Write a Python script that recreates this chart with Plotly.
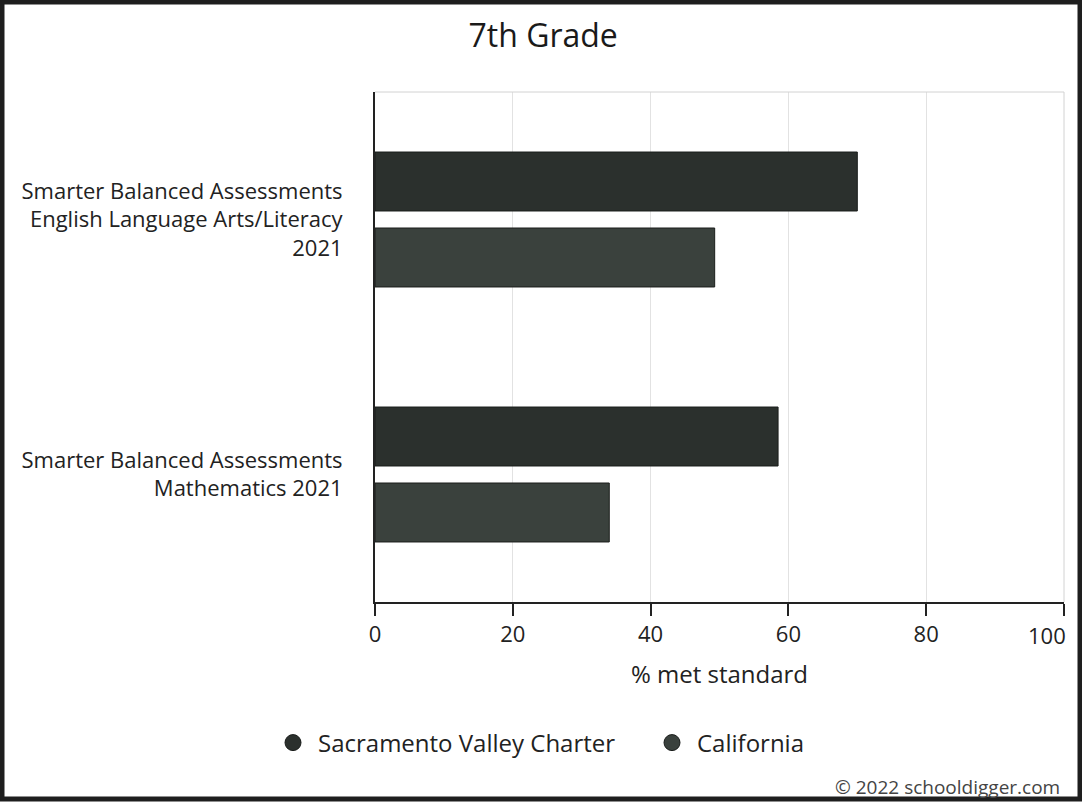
import plotly.graph_objects as go

categories = [
    "Smarter Balanced Assessments<br>English Language Arts/Literacy<br>2021",
    "Smarter Balanced Assessments<br>Mathematics 2021",
]
series_names = ["Sacramento Valley Charter", "California"]
svc_values = [70.0, 58.5]
ca_values = [49.3, 34.0]
x_ticks = [0, 20, 40, 60, 80, 100]
x_tick_labels = ["0", "20", "40", "60", "80", ""]
last_tick_label = "100"

colors = ["#2b302d", "#3a413d"]
W, H = 1082, 803
L, R, T, B = 375, 18, 92, 201
pw, ph = W - L - R, H - T - B

def px_x(p):
    return (p - L) / pw

def px_y(p):
    return (H - B - p) / ph

fig = go.Figure()
for name, vals, col in zip(series_names, [svc_values, ca_values], colors):
    fig.add_trace(go.Bar(
        y=categories, x=vals, name=name, orientation="h",
        marker=dict(color=col, line=dict(color="#1a1d1b", width=1)),
        showlegend=False,
    ))
    fig.add_trace(go.Scatter(
        x=[None], y=[None], mode="markers", name=name,
        marker=dict(symbol="circle", size=22, color=col,
                    line=dict(color="#1a1d1b", width=1)),
    ))

font = "Open Sans, DejaVu Sans, sans-serif"
fig.update_layout(
    width=W, height=H,
    margin=dict(l=L, r=R, t=T, b=B),
    paper_bgcolor="white", plot_bgcolor="white",
    font=dict(family=font, color="#222222", size=22),
    barmode="group", bargap=0.404, bargroupgap=0.224,
    title=dict(text="7th Grade", x=0.502, xanchor="center",
               y=1 - 36 / H, yanchor="middle", yref="container",
               font=dict(size=32, color="#1a1a1a")),
    xaxis=dict(range=[0, 100], tickvals=x_ticks, ticktext=x_tick_labels,
               showgrid=True, gridcolor="#e2e2e2", gridwidth=1,
               showline=True, linecolor="#222222", linewidth=2,
               ticks="outside", ticklen=12, tickcolor="#222222", tickwidth=2,
               tickfont=dict(size=22), zeroline=False,
               title=dict(text="% met standard", font=dict(size=24), standoff=19)),
    yaxis=dict(autorange="reversed", showline=True, linecolor="#222222",
               linewidth=2, showgrid=False, ticks="", ticklabelstandoff=26,
               tickfont=dict(size=22)),
    legend=dict(orientation="h", x=px_x(268), xanchor="left",
                y=px_y(743), yanchor="middle", font=dict(size=24),
                entrywidth=324, itemwidth=40),
    shapes=[
        dict(type="line", xref="paper", yref="paper", x0=0, x1=1, y0=1, y1=1,
             line=dict(color="#d2d2d2", width=1)),
        dict(type="line", xref="paper", yref="paper", x0=1, x1=1, y0=0, y1=1,
             line=dict(color="#d2d2d2", width=1)),
        dict(type="rect", xref="paper", yref="paper",
             x0=px_x(2), x1=px_x(W - 2), y0=px_y(2), y1=px_y(H - 4),
             line=dict(color="#1e1e1e", width=5)),
    ],
    annotations=[
        dict(text=last_tick_label, xref="x", yref="paper", x=x_ticks[-1], y=0,
             xanchor="right", yanchor="top", xshift=4, yshift=-16,
             showarrow=False, font=dict(size=22, color="#222222")),
        dict(text="© 2022 schooldigger.com", xref="paper", yref="paper",
             x=px_x(1062), y=px_y(787), xanchor="right", yanchor="middle",
             showarrow=False, font=dict(size=19, color="#444444")),
    ],
)

fig.write_html("out.html", config={"displayModeBar": False},
               post_script="document.body.style.margin='0';")
